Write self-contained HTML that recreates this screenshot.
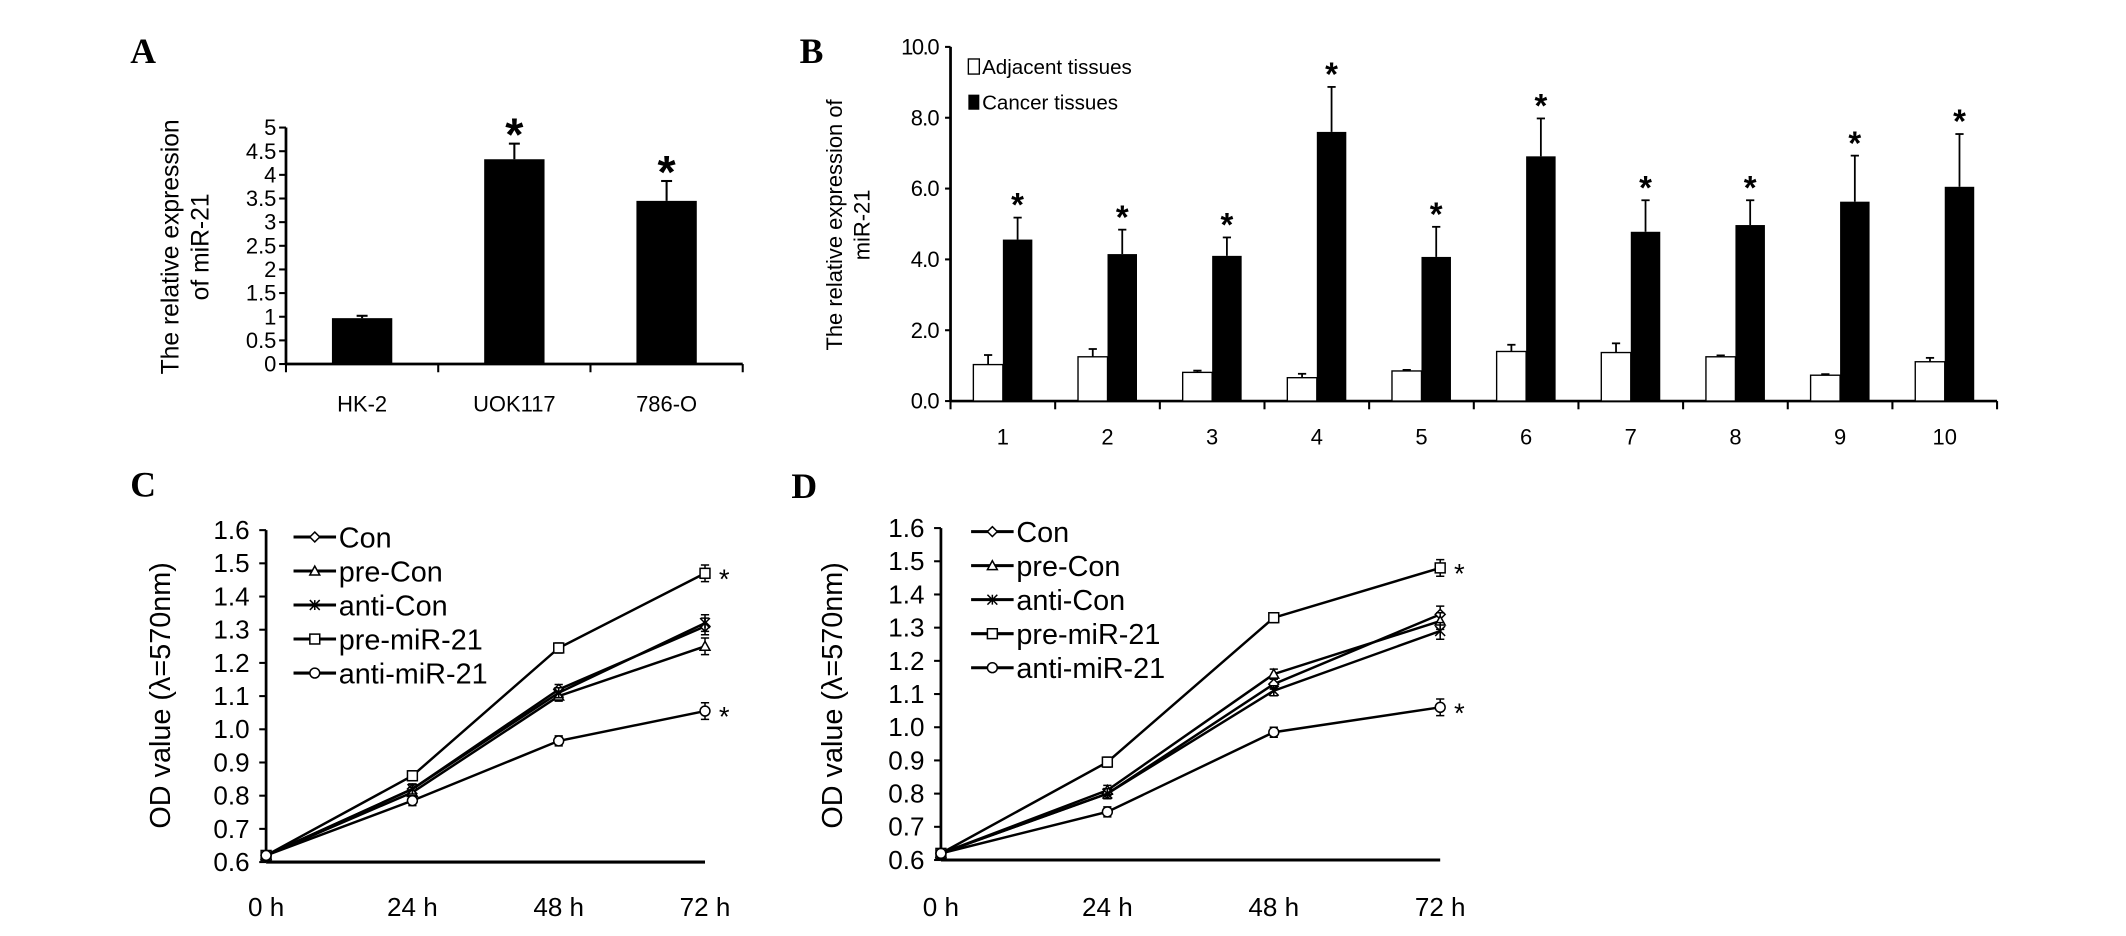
<!DOCTYPE html>
<html><head><meta charset="utf-8"><style>
html,body{margin:0;padding:0;background:#fff;}
svg{display:block;}
text{font-family:"Liberation Sans",Arial,sans-serif;fill:#000;}
.lt{font-family:"Liberation Serif",serif;font-weight:bold;}
</style></head><body>
<svg id="fig" xmlns="http://www.w3.org/2000/svg" width="2126" height="936" viewBox="0 0 1550 682.4" preserveAspectRatio="none"></svg>
<script>
// Panel A data
const aCats = ["HK-2", "UOK117", "786-O"];
const aVals = [0.97, 4.33, 3.45];
const aErr = [0.05, 0.33, 0.42];
const aTicks = ["0", "0.5", "1", "1.5", "2", "2.5", "3", "3.5", "4", "4.5", "5"];
// Panel B data
const bCats = ["1", "2", "3", "4", "5", "6", "7", "8", "9", "10"];
const bAdj = [1.03, 1.25, 0.81, 0.66, 0.85, 1.40, 1.37, 1.25, 0.73, 1.11];
const bAdjErr = [0.27, 0.22, 0.05, 0.11, 0.03, 0.19, 0.26, 0.04, 0.03, 0.11];
const bCan = [4.56, 4.15, 4.10, 7.60, 4.07, 6.91, 4.78, 4.97, 5.63, 6.05];
const bCanErr = [0.62, 0.69, 0.52, 1.27, 0.85, 1.07, 0.89, 0.70, 1.30, 1.49];
const bTicks = ["0.0", "2.0", "4.0", "6.0", "8.0", "10.0"];
// Panels C / D data
const timeLabels = ["0 h", "24 h", "48 h", "72 h"];
const seriesNames = ["Con", "pre-Con", "anti-Con", "pre-miR-21", "anti-miR-21"];
const odTicks = ["0.6", "0.7", "0.8", "0.9", "1.0", "1.1", "1.2", "1.3", "1.4", "1.5", "1.6"];
const cCon = [0.62, 0.82, 1.12, 1.31];
const cPreCon = [0.62, 0.81, 1.10, 1.25];
const cAntiCon = [0.62, 0.82, 1.11, 1.32];
const cPreMiR = [0.62, 0.86, 1.245, 1.47];
const cAntiMiR = [0.62, 0.785, 0.965, 1.055];
const dCon = [0.62, 0.80, 1.13, 1.34];
const dPreCon = [0.62, 0.81, 1.16, 1.32];
const dAntiCon = [0.62, 0.80, 1.11, 1.29];
const dPreMiR = [0.62, 0.895, 1.33, 1.48];
const dAntiMiR = [0.62, 0.745, 0.985, 1.06];
const odErr = [0.01, 0.015, 0.015, 0.025];
const starSeriesIdx = [3, 4];

const NS = "http://www.w3.org/2000/svg";
const svg = document.getElementById("fig");
function mk(tag, attrs, parent) {
  const e = document.createElementNS(NS, tag);
  for (const k in attrs) e.setAttribute(k, attrs[k]);
  (parent || svg).appendChild(e);
  return e;
}
function txt(s, attrs, parent) { const t = mk("text", attrs, parent); t.textContent = s; return t; }

// Panel letters
[["A",95,46],["B",583,46],["C",95,362],["D",577,363]].forEach(l => {
  const t = txt(l[0], {x:l[1], y:l[2], "font-size":26, class:"lt"});
  
  
});

// ---------- Panel A ----------
(function(){
  const g = mk("g", {});
  
  
  const x0 = 208.5, y0 = 265.4, yTop = 93, step = 111;
  const y = v => y0 - v * (y0 - yTop) / 5;
  const cx = i => x0 + step * (i + 0.5);
  const ax = mk("line", {x1:x0, y1:yTop, x2:x0, y2:y0, stroke:"#000", "stroke-width":2}, g);
  
  
  const xa = mk("line", {x1:x0, y1:y0, x2:x0 + step * aCats.length, y2:y0, stroke:"#000", "stroke-width":2}, g);
  
  
  aTicks.forEach((s, i) => {
    const v = parseFloat(s);
    mk("line", {x1:x0 - 5, y1:y(v), x2:x0, y2:y(v), stroke:"#000", "stroke-width":1.5}, g);
    const t = txt(s, {x:x0 - 7, y:y(v) + 5.5, "font-size":16, "text-anchor":"end"}, g);
    
    
  });
  for (let i = 0; i <= aCats.length; i++) mk("line", {x1:x0 + step * i, y1:y0, x2:x0 + step * i, y2:y0 + 6, stroke:"#000", "stroke-width":1.5}, g);
  aCats.forEach((c, i) => {
    const bar = mk("rect", {x:cx(i) - 22, y:y(aVals[i]), width:44, height:y0 - y(aVals[i]), fill:"#000"}, g);
    
    
    const et = y(aVals[i] + aErr[i]);
    mk("line", {x1:cx(i), y1:y(aVals[i]), x2:cx(i), y2:et, stroke:"#000", "stroke-width":1.5}, g);
    mk("line", {x1:cx(i) - 4, y1:et, x2:cx(i) + 4, y2:et, stroke:"#000", "stroke-width":1.5}, g);
    if (i > 0) {
      const st = txt("*", {x:cx(i), y:et + 5, "font-size":34, "font-weight":"bold", "text-anchor":"middle"}, g);
      
      
    }
    const lb = txt(c, {x:cx(i), y:300, "font-size":16, "text-anchor":"middle"}, g);
    
    
  });
  const yt = txt("", {transform:"translate(130,180) rotate(-90)", "font-size":18, "text-anchor":"middle"}, g);
  
  
  const t1 = mk("tspan", {x:0, y:0}, yt); t1.textContent = "The relative expression";
  const t2 = mk("tspan", {x:0, y:22}, yt); t2.textContent = "of miR-21";
})();

// ---------- Panel B ----------
(function(){
  const g = mk("g", {});
  
  
  const x0 = 693, y0 = 292.4, step = 76.3, unit = 25.82, bw = 21.5;
  const y = v => y0 - v * unit;
  const cx = i => x0 + step * (i + 0.5);
  const ax = mk("line", {x1:x0, y1:y(10), x2:x0, y2:y0, stroke:"#000", "stroke-width":2}, g);
  
  
  const xa = mk("line", {x1:x0, y1:y0, x2:x0 + step * bCats.length, y2:y0, stroke:"#000", "stroke-width":2}, g);
  
  
  bTicks.forEach(s => {
    const v = parseFloat(s);
    mk("line", {x1:x0 - 4, y1:y(v), x2:x0, y2:y(v), stroke:"#000", "stroke-width":1.5}, g);
    const t = txt(s, {x:x0 - 8, y:y(v) + 5.5, "font-size":16, "text-anchor":"end", "textLength":s.length > 3 ? 28 : 21}, g);
    
    
  });
  for (let i = 0; i <= bCats.length; i++) mk("line", {x1:x0 + step * i, y1:y0, x2:x0 + step * i, y2:y0 + 6, stroke:"#000", "stroke-width":1.5}, g);
  bCats.forEach((c, i) => {
    const c0 = cx(i);
    const wb = mk("rect", {x:c0 - bw, y:y(bAdj[i]), width:bw, height:y0 - y(bAdj[i]), fill:"#fff", stroke:"#000", "stroke-width":1}, g);
    
    
    const ea = y(bAdj[i] + bAdjErr[i]);
    mk("line", {x1:c0 - bw / 2, y1:y(bAdj[i]), x2:c0 - bw / 2, y2:ea, stroke:"#000", "stroke-width":1.3}, g);
    mk("line", {x1:c0 - bw / 2 - 3, y1:ea, x2:c0 - bw / 2 + 3, y2:ea, stroke:"#000", "stroke-width":1.3}, g);
    const bb = mk("rect", {x:c0, y:y(bCan[i]), width:bw, height:y0 - y(bCan[i]), fill:"#000"}, g);
    
    
    const ec = y(bCan[i] + bCanErr[i]);
    mk("line", {x1:c0 + bw / 2, y1:y(bCan[i]), x2:c0 + bw / 2, y2:ec, stroke:"#000", "stroke-width":1.3}, g);
    mk("line", {x1:c0 + bw / 2 - 3, y1:ec, x2:c0 + bw / 2 + 3, y2:ec, stroke:"#000", "stroke-width":1.3}, g);
    const st = txt("*", {x:c0 + bw / 2, y:ec - 1, "font-size":24, "font-weight":"bold", "text-anchor":"middle"}, g);
    
    
    const lb = txt(c, {x:c0, y:324, "font-size":16, "text-anchor":"middle"}, g);
    
    
  });
  const l1 = mk("rect", {x:706, y:43, width:8, height:11, fill:"#fff", stroke:"#000", "stroke-width":1}, g);
  
  
  const lt1 = txt("Adjacent tissues", {x:716, y:54, "font-size":15}, g);
  
  
  const l2 = mk("rect", {x:706, y:69, width:8, height:11, fill:"#000"}, g);
  
  
  const lt2 = txt("Cancer tissues", {x:716, y:80, "font-size":15}, g);
  
  
  const yt = txt("", {transform:"translate(614,164) rotate(-90)", "font-size":16, "text-anchor":"middle"}, g);
  
  
  const t1 = mk("tspan", {x:0, y:0}, yt); t1.textContent = "The relative expression of";
  const t2 = mk("tspan", {x:0, y:20}, yt); t2.textContent = "miR-21";
})();

// ---------- Panels C / D ----------
function marker(g, type, x, y) {
  const s = 3.6, a = {fill:"#fff", stroke:"#000", "stroke-width":1.1};
  let m;
  if (type === 0) m = mk("polygon", Object.assign({points:`${x},${y-s} ${x+s},${y} ${x},${y+s} ${x-s},${y}`}, a), g);
  else if (type === 1) m = mk("polygon", Object.assign({points:`${x},${y-s} ${x+s},${y+s*0.8} ${x-s},${y+s*0.8}`}, a), g);
  else if (type === 2) m = mk("path", {d:`M${x-s},${y-s}L${x+s},${y+s}M${x-s},${y+s}L${x+s},${y-s}M${x},${y-s}L${x},${y+s}`, stroke:"#000", "stroke-width":1.1, fill:"none"}, g);
  else if (type === 3) m = mk("rect", Object.assign({x:x - s, y:y - s, width:2 * s, height:2 * s}, a), g);
  else m = mk("circle", Object.assign({cx:x, cy:y, r:s}, a), g);
  
  
}
function linePanel(key, series, x0, xEnd, yTop, y0, titleX, legX, legY) {
  const g = mk("g", {});
  
  
  const y = v => y0 - (v - 0.6) * (y0 - yTop) / 1.0;
  const xs = (xEnd - x0) / (timeLabels.length - 1);
  const x = i => x0 + i * xs;
  const ax = mk("line", {x1:x0, y1:yTop, x2:x0, y2:y0, stroke:"#000", "stroke-width":2}, g);
  
  
  const xa = mk("line", {x1:x0, y1:y0, x2:xEnd, y2:y0, stroke:"#000", "stroke-width":2.2}, g);
  
  
  odTicks.forEach(s => {
    const v = parseFloat(s);
    mk("line", {x1:x0 - 5, y1:y(v), x2:x0, y2:y(v), stroke:"#000", "stroke-width":1.5}, g);
    const t = txt(s, {x:x0 - 12, y:y(v) + 6.5, "font-size":19, "text-anchor":"end"}, g);
    
    
  });
  timeLabels.forEach((s, i) => {
    const t = txt(s, {x:x(i), y:668, "font-size":19, "text-anchor":"middle"}, g);
    
    
  });
  series.forEach((vals, si) => {
    const p = mk("polyline", {points:vals.map((v, i) => x(i) + "," + y(v)).join(" "), fill:"none", stroke:"#000", "stroke-width":1.8}, g);
    
    
    vals.forEach((v, i) => {
      if (i > 0) {
        const e1 = y(v + odErr[i]), e2 = y(v - odErr[i]);
        mk("path", {d:`M${x(i)},${e1}V${e2}M${x(i)-3},${e1}H${x(i)+3}M${x(i)-3},${e2}H${x(i)+3}`, stroke:"#000", "stroke-width":1.1, fill:"none"}, g);
      }
      marker(g, si, x(i), y(v));
    });
  });
  starSeriesIdx.forEach(si => {
    const vals = series[si];
    const st = txt("*", {x:x(3) + 14, y:y(vals[3]) + 11, "font-size":20, "text-anchor":"middle"}, g);
    
    
  });
  seriesNames.forEach((n, si) => {
    const ly = legY + si * 24.8;
    const ln = mk("line", {x1:legX, y1:ly, x2:legX + 31, y2:ly, stroke:"#000", "stroke-width":2.2}, g);
    
    
    marker(g, si, legX + 15.5, ly);
    const t = txt(n, {x:legX + 33, y:ly + 7.5, "font-size":21}, g);
    
    
  });
  const yt = txt("OD value (λ=570nm)", {transform:`translate(${titleX},507) rotate(-90)`, "font-size":21, "text-anchor":"middle"}, g);
  
  
}
linePanel("c", [cCon, cPreCon, cAntiCon, cPreMiR, cAntiMiR], 194, 514, 386.5, 628.5, 124, 214, 391.5);
linePanel("d", [dCon, dPreCon, dAntiCon, dPreMiR, dAntiMiR], 686, 1050, 385, 627, 614, 708, 387.6);
</script>
</body></html>
